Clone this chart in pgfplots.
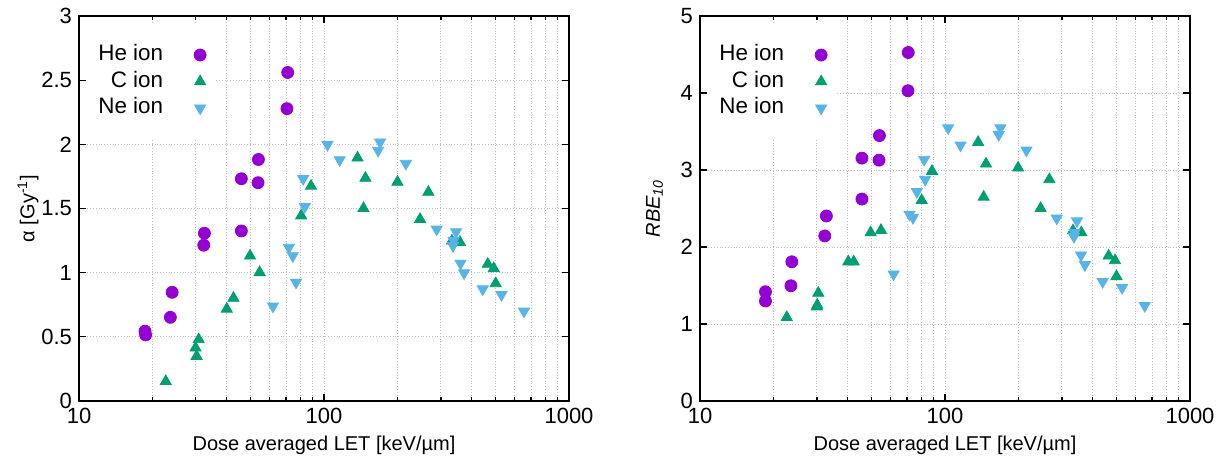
\documentclass[border=0pt]{standalone}
\usepackage{fontspec}
\setmainfont{Liberation Sans}
\usepackage{pgfplots}
\pgfplotsset{compat=1.18}
\pgfkeys{/pgf/number format/assume math mode=true}
\definecolor{heC}{HTML}{9400D3}
\definecolor{cC}{HTML}{009E73}
\definecolor{neC}{HTML}{56B4E9}

\pgfplotsset{
  he/.style={only marks, mark=*, mark size=3pt, color=heC},
  cion/.style={only marks, mark=triangle*, mark size=3.2pt, color=cC},
  neion/.style={only marks, mark=triangle*, mark size=3.2pt, color=neC, mark options={rotate=180}},
  mylegimg/.style={legend image code/.code={\path[draw=none,fill=none] (0pt,0pt) -- (20pt,0pt); \draw[##1] plot[only marks] coordinates {(17.5pt,0pt)};}},
}

\begin{document}
\begin{tikzpicture}
\path[use as bounding box] (0,0) rectangle (609pt,230.5pt);

\begin{axis}[at={(39.5pt,30pt)}, anchor=south west,
    scale only axis, width=245pt, height=192.5pt,
    xmode=log, xmin=10, xmax=1000,
    xtick={10,100,1000}, xticklabels={10,100,1000},
    minor xtick={20,30,40,50,60,70,80,90,200,300,400,500,600,700,800,900},
    xmajorgrids, xminorgrids, ymajorgrids,
    grid style={densely dotted, black!25, line width=0.5pt},
    tick align=inside,
    axis line style={line width=0.9pt},
    major tick length=3.5pt, minor tick length=2pt,
    tick style={black, line width=0.6pt},
    tick label style={font=\fontsize{11}{13}\selectfont},
    label style={font=\fontsize{11.2}{13}\selectfont},
    xlabel={Dose averaged LET [keV/µm]},
    every axis x label/.style={at={(axis description cs:0.5,-0.128)}, anchor=base},
    legend plot pos=right,
    legend cell align=right,
    legend style={at={(0.0163,0.979)}, anchor=north west, draw=none, fill=white,
      inner xsep=4.5pt, inner ysep=9pt, row sep=0.8pt,
      font=\fontsize{11.2}{13}\selectfont,
      nodes={inner sep=1pt, text height=8pt, text depth=2.5pt}},
  ymin=0, ymax=3, ytick={0,0.5,1,1.5,2,2.5,3},
  ylabel={α [Gy\textsuperscript{-1}]},
  every axis y label/.style={at={(axis description cs:-0.104,0.5)}, rotate=90, anchor=center}]
\addplot[he, mylegimg] coordinates {
(18.6,0.544) (18.7,0.515) (24.0,0.847) (23.6,0.652) (32.5,1.307) (32.3,1.214)
(46.0,1.732) (46.0,1.325) (54.0,1.882) (53.8,1.701) (71.1,2.560) (70.6,2.278)};
\addlegendentry{He ion}
\addplot[cion, mylegimg] coordinates {
(22.6,0.153) (30.2,0.349) (29.9,0.414) (30.8,0.479) (40.1,0.717) (42.7,0.802)
(49.9,1.131) (54.6,1.002) (80.7,1.444) (88.5,1.675) (137,1.895) (147.6,1.737)
(144.9,1.501) (199.5,1.706) (266.7,1.628) (246.6,1.416) (333,1.248) (359,1.237)
(466,1.067) (493,1.033) (502,0.916)};
\addlegendentry{C ion}
\addplot[neion, mylegimg] coordinates {
(61.9,0.738) (71.9,1.196) (74.6,1.131) (76.9,0.924) (82.2,1.732) (83.5,1.514)
(103.3,1.998) (115.9,1.879) (169.4,2.017) (166.3,1.952) (215.8,1.851) (288.4,1.338)
(346,1.318) (338,1.25) (336,1.21) (360.6,1.072) (373,0.997) (444.6,0.872)
(530,0.828) (655,0.699)};
\addlegendentry{Ne ion}
\end{axis}

\begin{axis}[at={(350pt,30pt)}, anchor=south west,
    scale only axis, width=245pt, height=192.5pt,
    xmode=log, xmin=10, xmax=1000,
    xtick={10,100,1000}, xticklabels={10,100,1000},
    minor xtick={20,30,40,50,60,70,80,90,200,300,400,500,600,700,800,900},
    xmajorgrids, xminorgrids, ymajorgrids,
    grid style={densely dotted, black!25, line width=0.5pt},
    tick align=inside,
    axis line style={line width=0.9pt},
    major tick length=3.5pt, minor tick length=2pt,
    tick style={black, line width=0.6pt},
    tick label style={font=\fontsize{11}{13}\selectfont},
    label style={font=\fontsize{11.2}{13}\selectfont},
    xlabel={Dose averaged LET [keV/µm]},
    every axis x label/.style={at={(axis description cs:0.5,-0.128)}, anchor=base},
    legend plot pos=right,
    legend cell align=right,
    legend style={at={(0.0163,0.979)}, anchor=north west, draw=none, fill=white,
      inner xsep=4.5pt, inner ysep=9pt, row sep=0.8pt,
      font=\fontsize{11.2}{13}\selectfont,
      nodes={inner sep=1pt, text height=8pt, text depth=2.5pt}},
  ymin=0, ymax=5, ytick={0,1,2,3,4,5},
  ylabel={\textit{RBE\textsubscript{10}}},
  every axis y label/.style={at={(axis description cs:-0.093,0.5)}, rotate=90, anchor=center}]
\addplot[he, mylegimg] coordinates {
(18.5,1.419) (18.5,1.299) (23.7,1.808) (23.5,1.497) (32.8,2.403) (32.3,2.144)
(45.8,3.154) (45.8,2.623) (54.0,3.447) (53.8,3.128) (70.8,4.526) (70.6,4.029)};
\addlegendentry{He ion}
\addplot[cion, mylegimg] coordinates {
(22.6,1.087) (30.4,1.402) (30.1,1.247) (30.0,1.225) (40.3,1.808) (42.4,1.808)
(49.7,2.187) (54.8,2.217) (80.3,2.606) (88.5,2.985) (136.5,3.361) (147,3.080)
(143.8,2.649) (198.8,3.028) (266.6,2.877) (245.6,2.502) (333,2.213) (360,2.187)
(465.6,1.885) (494,1.825) (501,1.618)};
\addlegendentry{C ion}
\addplot[neion, mylegimg] coordinates {
(61.7,1.648) (71.6,2.424) (74.0,2.381) (76.8,2.718) (82.2,3.136) (83.0,2.877)
(103,3.546) (115.7,3.322) (168.3,3.546) (165.7,3.46) (214.9,3.257) (285.9,2.373)
(345.6,2.338) (338,2.187) (336,2.135) (359,1.894) (372.5,1.769) (440,1.549)
(528,1.471) (653,1.238)};
\addlegendentry{Ne ion}
\end{axis}
\end{tikzpicture}
\end{document}
